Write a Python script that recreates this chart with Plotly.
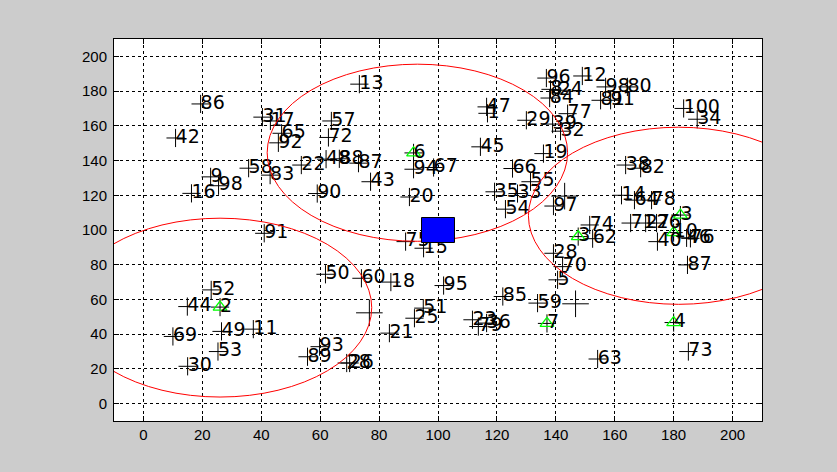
import plotly.graph_objects as go

# ---- data ----
node_label = ["86", "42", "31", "17", "65", "92", "57", "72", "13", "58",
              "83", "22", "48", "88", "87", "9", "98", "16", "90", "43",
              "6", "94", "67", "20", "47", "1", "45", "96", "12", "8",
              "24", "84", "77", "29", "39", "32", "98", "80", "81", "91",
              "100", "34", "19", "66", "55", "35", "33", "54", "97", "38",
              "82", "14", "64", "78", "74", "3", "62", "71", "27", "26",
              "3", "10", "46", "76", "40", "87", "28", "70", "5", "59",
              "4", "7", "73", "63", "85", "23", "36", "79", "51", "25",
              "21", "95", "18", "60", "50", "75", "15", "91", "52", "44",
              "2", "49", "11", "69", "53", "30", "93", "89", "28", "26"]
node_x = [19.4, 10.9, 40.4, 43.1, 46.9, 45.8, 63.8, 62.8, 73.3, 35.7,
          43.0, 53.6, 62.0, 66.5, 73.0, 22.8, 25.5, 16.3, 59.0, 77.1,
          91.7, 91.7, 98.5, 90.3, 116.5, 116.8, 114.4, 136.8, 149.0, 138.2,
          141.0, 137.9, 144.0, 130.0, 138.9, 141.6, 156.9, 164.3, 155.2, 158.6,
          183.4, 188.0, 135.8, 125.3, 131.4, 119.2, 127.0, 122.9, 139.2, 163.7,
          168.8, 162.3, 166.7, 172.5, 151.5, 147.6, 152.5, 165.4, 170.5, 174.2,
          182.3, 180.0, 184.4, 185.7, 174.5, 184.7, 139.2, 142.3, 140.6, 133.8,
          180.0, 137.0, 185.0, 154.2, 122.0, 111.7, 116.5, 113.7, 95.0, 92.0,
          83.5, 101.9, 84.0, 74.0, 61.8, 89.0, 95.1, 41.0, 23.0, 14.9,
          26.0, 26.5, 37.3, 10.0, 25.3, 15.0, 59.8, 55.7, 69.0, 70.0]
node_y = [172.6, 153.0, 165.0, 162.8, 155.7, 150.2, 162.8, 153.3, 184.0, 135.6,
          131.6, 137.4, 140.8, 141.0, 138.5, 130.6, 125.5, 121.1, 121.0, 127.8,
          144.4, 135.0, 136.0, 119.0, 170.9, 167.2, 147.9, 187.5, 188.7, 181.0,
          180.5, 176.0, 167.0, 163.2, 161.0, 156.9, 182.4, 182.4, 174.7, 174.7,
          170.0, 163.8, 144.0, 135.4, 127.8, 122.0, 121.0, 112.0, 113.8, 137.4,
          135.6, 120.0, 117.2, 117.2, 102.9, 96.2, 95.0, 104.0, 104.0, 104.0,
          108.6, 98.5, 95.5, 95.2, 93.3, 79.9, 86.6, 78.9, 71.3, 57.9,
          46.7, 46.2, 30.0, 25.7, 61.7, 48.3, 46.4, 44.4, 55.0, 49.2,
          40.6, 68.0, 70.0, 72.2, 74.5, 93.3, 89.5, 98.1, 65.5, 55.9,
          55.6, 41.6, 42.9, 38.7, 30.0, 21.5, 32.8, 27.0, 23.4, 23.4]

head_label = ["6", "2", "3", "10", "4", "7"]

extra_x = [76.7, 146.7, 143.0]
extra_y = [52.3, 57.5, 119.5]

circle_cx = [26.0, 93.0, 181.7]
circle_cy = [55.3, 144.5, 108.2]
circle_r = [51.5, 51.0, 51.0]

bs_x = [100.0]
bs_y = [100.0]

x_ticks = [0, 20, 40, 60, 80, 100, 120, 140, 160, 180, 200]
y_ticks = [0, 20, 40, 60, 80, 100, 120, 140, 160, 180, 200]

# ---- figure ----
fig = go.Figure()

fig.add_trace(go.Scatter(
    x=node_x, y=node_y, mode="markers",
    marker=dict(symbol="cross-thin", size=13, color="black",
                line=dict(color="black", width=1)),
    hoverinfo="skip", showlegend=False))

hx = [x for x, l in zip(node_x, node_label) if l in head_label]
hy = [y for y, l in zip(node_y, node_label) if l in head_label]
fig.add_trace(go.Scatter(
    x=hx, y=hy, mode="markers",
    marker=dict(symbol="triangle-up-open", size=12, color="#00ff00",
                line=dict(color="#00ee00", width=1.3)),
    hoverinfo="skip", showlegend=False))

fig.add_trace(go.Scatter(
    x=extra_x, y=extra_y, mode="markers",
    marker=dict(symbol="cross-thin", size=19, color="black",
                line=dict(color="black", width=1)),
    hoverinfo="skip", showlegend=False))

fig.add_trace(go.Scatter(
    x=node_x, y=node_y, mode="text", text=node_label,
    textposition="middle right",
    textfont=dict(family="DejaVu Sans", size=19, color="black"),
    hoverinfo="skip", showlegend=False))

shapes = []
for cx, cy, r in zip(circle_cx, circle_cy, circle_r):
    shapes.append(dict(type="circle", xref="x", yref="y",
                       x0=cx - r, x1=cx + r, y0=cy - r, y1=cy + r,
                       line=dict(color="red", width=1), layer="above"))
half_w, half_h = 5.6, 7.2
for bx, by in zip(bs_x, bs_y):
    shapes.append(dict(type="rect", xref="x", yref="y",
                       x0=bx - half_w, x1=bx + half_w,
                       y0=by - half_h, y1=by + half_h,
                       fillcolor="#0000ff", line=dict(color="black", width=1),
                       layer="above"))

tickfont = dict(family="Liberation Sans, Arial", size=15, color="black")
axis_common = dict(showgrid=True, gridcolor="black", gridwidth=1,
                   griddash="3px,3px", zeroline=False, showline=True,
                   linecolor="black", linewidth=1, mirror="ticks",
                   ticks="inside", ticklen=5, tickcolor="black",
                   tickfont=tickfont)

fig.update_layout(
    width=837, height=472,
    margin=dict(l=114, r=75, t=39, b=51),
    paper_bgcolor="#cccccc", plot_bgcolor="white",
    shapes=shapes,
    xaxis=dict(range=[-10, 210], tickvals=x_ticks, ticklabelstandoff=0,
               **axis_common),
    yaxis=dict(range=[-10, 210], tickvals=y_ticks, ticklabelstandoff=3,
               **axis_common),
)

fig.write_html("out.html", config={"displayModeBar": False})

# remove the browser's default page margin so the figure fills the window
with open("out.html", "r", encoding="utf-8") as f:
    html = f.read()
html = html.replace("<head>", "<head><style>html,body{margin:0;padding:0;overflow:hidden;background:#cccccc}</style>", 1)
with open("out.html", "w", encoding="utf-8") as f:
    f.write(html)
